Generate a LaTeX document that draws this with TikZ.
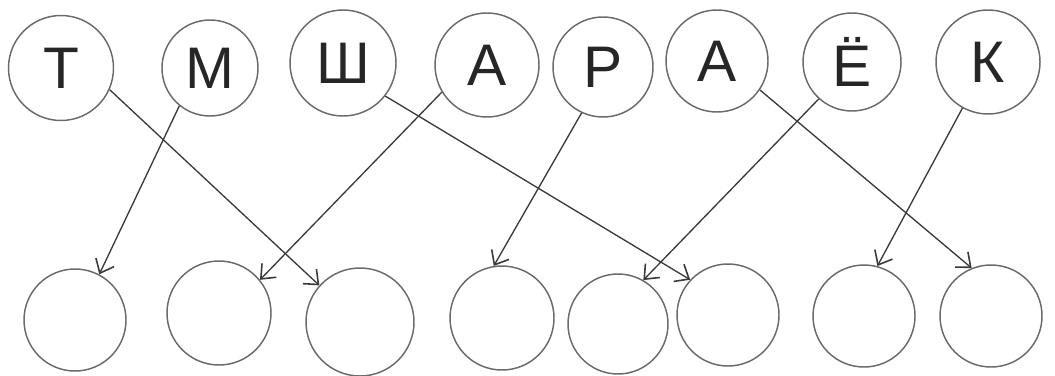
\documentclass[tikz,border=0pt]{standalone}
\usepackage{fontspec}
\setmainfont{Liberation Sans}
\usetikzlibrary{arrows.meta}
\definecolor{pencil}{HTML}{6A6A6A}
\definecolor{lead}{HTML}{3A3A3A}
\begin{document}
\begin{tikzpicture}[x=0.75pt,y=-0.75pt,
  letter/.style={circle,draw=pencil,line width=1.1pt,inner sep=0pt,minimum size=#1*0.75pt,
    font=\fontsize{44}{44}\selectfont,text=black!85},
  slot/.style={circle,draw=pencil,line width=1.1pt,inner sep=0pt,minimum size=#1*0.75pt},
  link/.style={draw=lead,line width=1pt,-{Straight Barb[length=9pt,width=15pt,line width=1.2pt]}}]
\useasboundingbox (0,0) rectangle (1055,375);
% top row
\node[letter=105] (t1) at (61,68) {Т};
\node[letter=96]  (t2) at (210,68) {М};
\node[letter=106] (t3) at (343,63) {Ш};
\node[letter=104] (t4) at (487,65) {А};
\node[letter=100] (t5) at (603,67) {Р};
\node[letter=102] (t6) at (717,61) {А};
\node[letter=98]  (t7) at (852,62) {Ё};
\node[letter=104] (t8) at (988,62) {К};
% bottom row
\node[slot=102] (b1) at (75,320) {};
\node[slot=104] (b2) at (219,313) {};
\node[slot=108] (b3) at (360,322) {};
\node[slot=104] (b4) at (502,318) {};
\node[slot=100] (b5) at (618,324) {};
\node[slot=102] (b6) at (728,315) {};
\node[slot=102] (b7) at (864,316) {};
\node[slot=102] (b8) at (991,316) {};
% connectors
\draw[link] (t1.-24)  -- (b3.138);
\draw[link] (t2.-129) -- (b1.62);
\draw[link] (t3.-38)  -- (b6.137);
\draw[link] (t4.-149) -- (b2.39);
\draw[link] (t5.-115) -- (b4.99);
\draw[link] (t6.-34)  -- (b8.112);
\draw[link] (t7.-132) -- (b5.60);
\draw[link] (t8.-119) -- (b7.75);
\end{tikzpicture}
\end{document}
